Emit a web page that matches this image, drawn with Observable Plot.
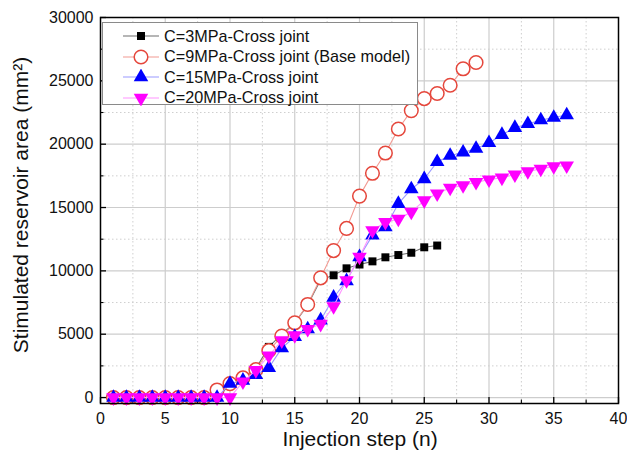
<!DOCTYPE html>
<html>
<head>
<meta charset="utf-8">
<script src="https://cdn.jsdelivr.net/npm/d3@7"></script>
<script src="https://cdn.jsdelivr.net/npm/@observablehq/plot@0.6"></script>
<style>
  html, body { margin: 0; padding: 0; background: #fff; }
  #chart { position: relative; width: 627px; height: 460px; font-family: "Liberation Sans", Arial, sans-serif; }
  #legend { position: absolute; left: 102px; top: 22px; width: 316px; height: 83px; box-sizing: border-box;
            border: 1px solid #8a8a8a; background: #fff; padding-top: 3px; }
  .row { display: flex; align-items: center; height: 20.5px; padding-left: 20px; font-size: 16.2px; color: #111; }
  .row svg { margin-right: 5px; }
  .ylab { position: absolute; left: 21px; top: 205px; transform: translate(-50%, -50%) rotate(-90deg);
          white-space: nowrap; font-size: 21px; color: #111; }
  .xlab { position: absolute; left: 360px; top: 427px; transform: translateX(-50%);
          white-space: nowrap; font-size: 21px; color: #111; }
</style>
</head>
<body>
<div id="chart"></div>
<script>
// Injection steps per case
const steps3 = d3.range(1, 27);
const steps9 = d3.range(1, 30);
const steps15 = d3.range(1, 37);
const steps20 = d3.range(1, 37);

// Stimulated reservoir area (mm²) per injection step
const area3 = [0,0,0,0,0,0,0,0,0,1000,1500,2300,4000,5000,5900,7300,9300,9650,10200,10500,10750,11070,11250,11430,11860,12000];
const area9 = [0,0,0,0,0,0,0,0,600,1100,1550,2200,3700,4850,5900,7350,9450,11600,13350,15900,17700,19300,21200,22650,23600,24000,24650,25950,26450];
const area15 = [0,0,0,0,0,0,0,0,0,1100,1350,1800,2350,3900,4800,5400,6100,7900,9200,11100,12800,13450,15300,16450,17250,18600,19100,19350,19650,20100,20750,21300,21600,21900,22100,22300];
const area20 = [0,0,0,0,0,0,0,0,0,0,1250,2150,3300,4500,4900,5400,5800,7200,9250,11100,13200,13850,14100,14650,15550,16100,16550,16750,17000,17200,17350,17600,17850,18050,18250,18300];

const seriesNames = ["C=3MPa-Cross joint", "C=9MPa-Cross joint (Base model)", "C=15MPa-Cross joint", "C=20MPa-Cross joint"];

// Axis ticks
const xMajor = [0, 5, 10, 15, 20, 25, 30, 35, 40];
const xMinor = [2.5, 7.5, 12.5, 17.5, 22.5, 27.5, 32.5, 37.5];
const yMajor = [0, 5000, 10000, 15000, 20000, 25000, 30000];
const yMinor = [2500, 7500, 12500, 17500, 22500, 27500];

const rows = (steps, vals) => steps.map((s, i) => ({step: s, area: vals[i]}));
const d3MPa = rows(steps3, area3);
const d9MPa = rows(steps9, area9);
const d15MPa = rows(steps15, area15);
const d20MPa = rows(steps20, area20);

// downward-pointing triangle
const triangleDown = {
  draw(context, size) {
    const y = -Math.sqrt(size / (Math.sqrt(3) * 3));
    context.moveTo(0, -y * 2);
    context.lineTo(-Math.sqrt(3) * y, y);
    context.lineTo(Math.sqrt(3) * y, y);
    context.closePath();
  }
};

const W = 627, H = 460;
const mL = 100, mR = 9, mT = 17, mB = 57;
const frameW = W - mL - mR, frameH = H - mT - mB;

const styles = [
  {data: d3MPa, line: "#6e6e6e", symbol: "square", fill: "#000", stroke: "none", r: 4.5},
  {data: d9MPa, line: "#f29a92", symbol: "circle", fill: "#fff", stroke: "#e5473c", r: 6.8},
  {data: d15MPa, line: "#9a9aff", symbol: "triangle", fill: "#0000ff", stroke: "none", r: 5.4},
  {data: d20MPa, line: "#ff94ff", symbol: triangleDown, fill: "#ff00ff", stroke: "none", r: 5.4}
];

const seriesMarks = styles.flatMap(s => [
  Plot.line(s.data, {x: "step", y: "area", stroke: s.line, strokeWidth: 1.1}),
  Plot.dot(s.data, {x: "step", y: "area", symbol: () => s.symbol, fill: s.fill, stroke: s.stroke,
                    strokeWidth: 1.5, r: s.r})
]);

const plot = Plot.plot({
  width: W, height: H,
  marginLeft: mL, marginRight: mR, marginTop: mT, marginBottom: mB,
  style: {fontFamily: "Liberation Sans, Arial, sans-serif", color: "#111", background: "transparent", overflow: "visible"},
  x: {domain: [0, 40]},
  y: {domain: [-470, 30000]},
  symbol: {type: "identity"},
  marks: [
    // grid
    Plot.ruleX(xMinor, {x: d => d, stroke: "#cfcfcf", strokeDasharray: "1.5,2.5", strokeWidth: 1}),
    Plot.ruleY(yMinor, {y: d => d, stroke: "#cfcfcf", strokeDasharray: "1.5,2.5", strokeWidth: 1}),
    Plot.ruleX(xMajor.filter(d => d > 0 && d < 40), {x: d => d, stroke: "#cdcdcd", strokeWidth: 1.2}),
    Plot.ruleY(yMajor.filter(d => d < 30000), {y: d => d, stroke: "#cdcdcd", strokeWidth: 1.2}),
    // inward ticks
    Plot.tickX(xMajor, {x: d => d, insetTop: frameH - 6, stroke: "#000", strokeWidth: 1.3}),
    Plot.tickX(xMinor, {x: d => d, insetTop: frameH - 3.5, stroke: "#000", strokeWidth: 1.1}),
    Plot.tickY(yMajor, {y: d => d, insetRight: frameW - 6, stroke: "#000", strokeWidth: 1.3}),
    Plot.tickY(yMinor, {y: d => d, insetRight: frameW - 3.5, stroke: "#000", strokeWidth: 1.1}),
    // tick labels
    Plot.axisX({ticks: xMajor, tickSize: 0, tickPadding: 9, fontSize: 16, label: null, tickFormat: d => String(d)}),
    Plot.axisY({ticks: yMajor, tickSize: 0, tickPadding: 7, fontSize: 16, label: null, tickFormat: d => String(d)}),
    ...seriesMarks,
    Plot.frame({stroke: "#000", strokeWidth: 1.5})
  ]
});

const chart = document.getElementById("chart");
chart.appendChild(plot);

// legend inside the plot area
const legend = document.createElement("div");
legend.id = "legend";
styles.forEach((s, i) => {
  const row = document.createElement("div");
  row.className = "row";
  const sw = d3.create("svg").attr("width", 36).attr("height", 16);
  sw.append("line").attr("x1", 0).attr("x2", 36).attr("y1", 8).attr("y2", 8)
    .attr("stroke", s.line).attr("stroke-width", 1.1);
  const type = typeof s.symbol === "string"
    ? {square: d3.symbolSquare, circle: d3.symbolCircle, triangle: d3.symbolTriangle}[s.symbol]
    : s.symbol;
  sw.append("path").attr("transform", "translate(18,8)")
    .attr("d", d3.symbol(type, Math.PI * s.r * s.r)())
    .attr("fill", s.fill).attr("stroke", s.stroke).attr("stroke-width", 1.5);
  row.appendChild(sw.node());
  const label = document.createElement("span");
  label.textContent = seriesNames[i];
  row.appendChild(label);
  legend.appendChild(row);
});
chart.appendChild(legend);

const ylab = document.createElement("div");
ylab.className = "ylab";
ylab.textContent = "Stimulated reservoir area (mm²)";
chart.appendChild(ylab);

const xlab = document.createElement("div");
xlab.className = "xlab";
xlab.textContent = "Injection step (n)";
chart.appendChild(xlab);
</script>
</body>
</html>
